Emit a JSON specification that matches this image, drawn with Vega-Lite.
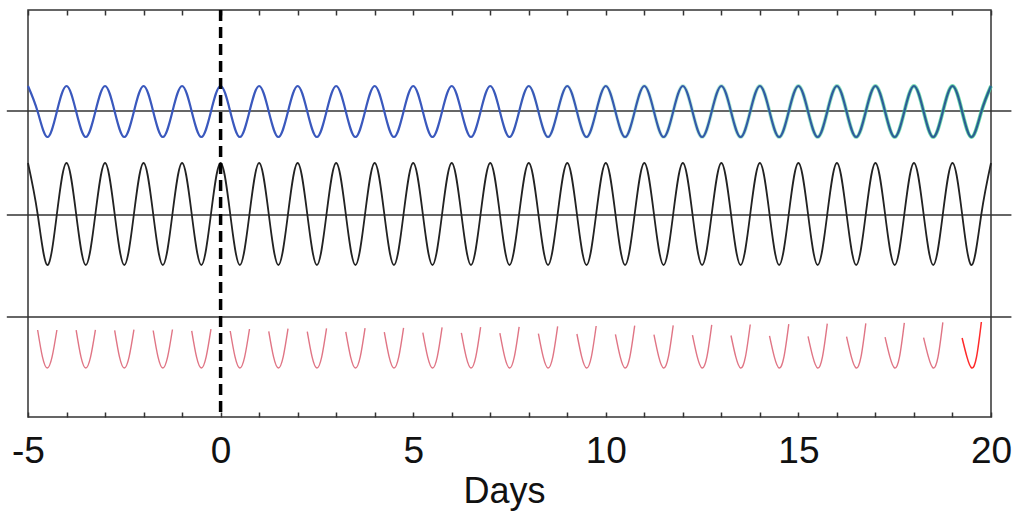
{
  "$schema": "https://vega.github.io/schema/vega-lite/v6.json",
  "width": 963,
  "height": 407,
  "autosize": {"type": "none"},
  "padding": {"left": 28, "top": 10, "right": 29, "bottom": 101},
  "background": "white",
  "config": {
    "view": {"stroke": "#333333", "strokeWidth": 1.5},
    "font": "Liberation Sans"
  },
  "datasets": {
    "levels": [{"lvl": 30.6}, {"lvl": 20.2}, {"lvl": 10.0}],
    "marker": [{"t": 0}],
    "waves": [
      {"t": -5, "a": 33.1, "b": 25.4}, {"t": -4.75, "a": 30.55, "b": 20.3}, {"t": -4.5, "a": 28.0, "b": 15.2}, {"t": -4.25, "a": 30.55, "b": 20.3},
      {"t": -4, "a": 33.1, "b": 25.4}, {"t": -3.75, "a": 30.55, "b": 20.3}, {"t": -3.5, "a": 28.0, "b": 15.2}, {"t": -3.25, "a": 30.55, "b": 20.3},
      {"t": -3, "a": 33.1, "b": 25.4}, {"t": -2.75, "a": 30.55, "b": 20.3}, {"t": -2.5, "a": 28.0, "b": 15.2}, {"t": -2.25, "a": 30.55, "b": 20.3},
      {"t": -2, "a": 33.1, "b": 25.4}, {"t": -1.75, "a": 30.55, "b": 20.3}, {"t": -1.5, "a": 28.0, "b": 15.2}, {"t": -1.25, "a": 30.55, "b": 20.3},
      {"t": -1, "a": 33.1, "b": 25.4}, {"t": -0.75, "a": 30.55, "b": 20.3}, {"t": -0.5, "a": 28.0, "b": 15.2}, {"t": -0.25, "a": 30.55, "b": 20.3},
      {"t": 0, "a": 33.1, "b": 25.4}, {"t": 0.25, "a": 30.55, "b": 20.3}, {"t": 0.5, "a": 28.0, "b": 15.2}, {"t": 0.75, "a": 30.55, "b": 20.3},
      {"t": 1, "a": 33.1, "b": 25.4}, {"t": 1.25, "a": 30.55, "b": 20.3}, {"t": 1.5, "a": 28.0, "b": 15.2}, {"t": 1.75, "a": 30.55, "b": 20.3},
      {"t": 2, "a": 33.1, "b": 25.4}, {"t": 2.25, "a": 30.55, "b": 20.3}, {"t": 2.5, "a": 28.0, "b": 15.2}, {"t": 2.75, "a": 30.55, "b": 20.3},
      {"t": 3, "a": 33.1, "b": 25.4}, {"t": 3.25, "a": 30.55, "b": 20.3}, {"t": 3.5, "a": 28.0, "b": 15.2}, {"t": 3.75, "a": 30.55, "b": 20.3},
      {"t": 4, "a": 33.1, "b": 25.4}, {"t": 4.25, "a": 30.55, "b": 20.3}, {"t": 4.5, "a": 28.0, "b": 15.2}, {"t": 4.75, "a": 30.55, "b": 20.3},
      {"t": 5, "a": 33.1, "b": 25.4}, {"t": 5.25, "a": 30.55, "b": 20.3}, {"t": 5.5, "a": 28.0, "b": 15.2}, {"t": 5.75, "a": 30.55, "b": 20.3},
      {"t": 6, "a": 33.1, "b": 25.4}, {"t": 6.25, "a": 30.55, "b": 20.3}, {"t": 6.5, "a": 28.0, "b": 15.2}, {"t": 6.75, "a": 30.55, "b": 20.3},
      {"t": 7, "a": 33.1, "b": 25.4}, {"t": 7.25, "a": 30.55, "b": 20.3}, {"t": 7.5, "a": 28.0, "b": 15.2}, {"t": 7.75, "a": 30.55, "b": 20.3},
      {"t": 8, "a": 33.1, "b": 25.4}, {"t": 8.25, "a": 30.55, "b": 20.3}, {"t": 8.5, "a": 28.0, "b": 15.2}, {"t": 8.75, "a": 30.55, "b": 20.3},
      {"t": 9, "a": 33.1, "b": 25.4}, {"t": 9.25, "a": 30.55, "b": 20.3}, {"t": 9.5, "a": 28.0, "b": 15.2}, {"t": 9.75, "a": 30.55, "b": 20.3},
      {"t": 10, "a": 33.1, "b": 25.4}, {"t": 10.25, "a": 30.55, "b": 20.3}, {"t": 10.5, "a": 28.0, "b": 15.2}, {"t": 10.75, "a": 30.55, "b": 20.3},
      {"t": 11, "a": 33.1, "b": 25.4}, {"t": 11.25, "a": 30.55, "b": 20.3}, {"t": 11.5, "a": 28.0, "b": 15.2}, {"t": 11.75, "a": 30.55, "b": 20.3},
      {"t": 12, "a": 33.1, "b": 25.4}, {"t": 12.25, "a": 30.55, "b": 20.3}, {"t": 12.5, "a": 28.0, "b": 15.2}, {"t": 12.75, "a": 30.55, "b": 20.3},
      {"t": 13, "a": 33.1, "b": 25.4}, {"t": 13.25, "a": 30.55, "b": 20.3}, {"t": 13.5, "a": 28.0, "b": 15.2}, {"t": 13.75, "a": 30.55, "b": 20.3},
      {"t": 14, "a": 33.1, "b": 25.4}, {"t": 14.25, "a": 30.55, "b": 20.3}, {"t": 14.5, "a": 28.0, "b": 15.2}, {"t": 14.75, "a": 30.55, "b": 20.3},
      {"t": 15, "a": 33.1, "b": 25.4}, {"t": 15.25, "a": 30.55, "b": 20.3}, {"t": 15.5, "a": 28.0, "b": 15.2}, {"t": 15.75, "a": 30.55, "b": 20.3},
      {"t": 16, "a": 33.1, "b": 25.4}, {"t": 16.25, "a": 30.55, "b": 20.3}, {"t": 16.5, "a": 28.0, "b": 15.2}, {"t": 16.75, "a": 30.55, "b": 20.3},
      {"t": 17, "a": 33.1, "b": 25.4}, {"t": 17.25, "a": 30.55, "b": 20.3}, {"t": 17.5, "a": 28.0, "b": 15.2}, {"t": 17.75, "a": 30.55, "b": 20.3},
      {"t": 18, "a": 33.1, "b": 25.4}, {"t": 18.25, "a": 30.55, "b": 20.3}, {"t": 18.5, "a": 28.0, "b": 15.2}, {"t": 18.75, "a": 30.55, "b": 20.3},
      {"t": 19, "a": 33.1, "b": 25.4}, {"t": 19.25, "a": 30.55, "b": 20.3}, {"t": 19.5, "a": 28.0, "b": 15.2}, {"t": 19.75, "a": 30.55, "b": 20.3},
      {"t": 20, "a": 33.1, "b": 25.4}
    ],
    "lows": [
      {"v": 0, "t": -4.75, "y": 8.7}, {"v": 0, "t": -4.625, "y": 6.01}, {"v": 0, "t": -4.5, "y": 4.9}, {"v": 0, "t": -4.375, "y": 6.01}, {"v": 0, "t": -4.25, "y": 8.7},
      {"v": 1, "t": -3.75, "y": 8.69}, {"v": 1, "t": -3.625, "y": 6.01}, {"v": 1, "t": -3.5, "y": 4.9}, {"v": 1, "t": -3.375, "y": 6.01}, {"v": 1, "t": -3.25, "y": 8.71},
      {"v": 2, "t": -2.75, "y": 8.67}, {"v": 2, "t": -2.625, "y": 6.01}, {"v": 2, "t": -2.5, "y": 4.9}, {"v": 2, "t": -2.375, "y": 6.01}, {"v": 2, "t": -2.25, "y": 8.73},
      {"v": 3, "t": -1.75, "y": 8.65}, {"v": 3, "t": -1.625, "y": 6.01}, {"v": 3, "t": -1.5, "y": 4.9}, {"v": 3, "t": -1.375, "y": 6.01}, {"v": 3, "t": -1.25, "y": 8.75},
      {"v": 4, "t": -0.75, "y": 8.62}, {"v": 4, "t": -0.625, "y": 6.01}, {"v": 4, "t": -0.5, "y": 4.9}, {"v": 4, "t": -0.375, "y": 6.01}, {"v": 4, "t": -0.25, "y": 8.78},
      {"v": 5, "t": 0.25, "y": 8.6}, {"v": 5, "t": 0.375, "y": 6.01}, {"v": 5, "t": 0.5, "y": 4.9}, {"v": 5, "t": 0.625, "y": 6.01}, {"v": 5, "t": 0.75, "y": 8.8},
      {"v": 6, "t": 1.25, "y": 8.57}, {"v": 6, "t": 1.375, "y": 6.01}, {"v": 6, "t": 1.5, "y": 4.9}, {"v": 6, "t": 1.625, "y": 6.01}, {"v": 6, "t": 1.75, "y": 8.83},
      {"v": 7, "t": 2.25, "y": 8.54}, {"v": 7, "t": 2.375, "y": 6.01}, {"v": 7, "t": 2.5, "y": 4.9}, {"v": 7, "t": 2.625, "y": 6.01}, {"v": 7, "t": 2.75, "y": 8.86},
      {"v": 8, "t": 3.25, "y": 8.51}, {"v": 8, "t": 3.375, "y": 6.01}, {"v": 8, "t": 3.5, "y": 4.9}, {"v": 8, "t": 3.625, "y": 6.01}, {"v": 8, "t": 3.75, "y": 8.89},
      {"v": 9, "t": 4.25, "y": 8.48}, {"v": 9, "t": 4.375, "y": 6.01}, {"v": 9, "t": 4.5, "y": 4.9}, {"v": 9, "t": 4.625, "y": 6.01}, {"v": 9, "t": 4.75, "y": 8.92},
      {"v": 10, "t": 5.25, "y": 8.44}, {"v": 10, "t": 5.375, "y": 6.01}, {"v": 10, "t": 5.5, "y": 4.9}, {"v": 10, "t": 5.625, "y": 6.01}, {"v": 10, "t": 5.75, "y": 8.96},
      {"v": 11, "t": 6.25, "y": 8.41}, {"v": 11, "t": 6.375, "y": 6.01}, {"v": 11, "t": 6.5, "y": 4.9}, {"v": 11, "t": 6.625, "y": 6.01}, {"v": 11, "t": 6.75, "y": 8.99},
      {"v": 12, "t": 7.25, "y": 8.38}, {"v": 12, "t": 7.375, "y": 6.01}, {"v": 12, "t": 7.5, "y": 4.9}, {"v": 12, "t": 7.625, "y": 6.01}, {"v": 12, "t": 7.75, "y": 9.02},
      {"v": 13, "t": 8.25, "y": 8.34}, {"v": 13, "t": 8.375, "y": 6.01}, {"v": 13, "t": 8.5, "y": 4.9}, {"v": 13, "t": 8.625, "y": 6.01}, {"v": 13, "t": 8.75, "y": 9.06},
      {"v": 14, "t": 9.25, "y": 8.3}, {"v": 14, "t": 9.375, "y": 6.01}, {"v": 14, "t": 9.5, "y": 4.9}, {"v": 14, "t": 9.625, "y": 6.01}, {"v": 14, "t": 9.75, "y": 9.1},
      {"v": 15, "t": 10.25, "y": 8.27}, {"v": 15, "t": 10.375, "y": 6.01}, {"v": 15, "t": 10.5, "y": 4.9}, {"v": 15, "t": 10.625, "y": 6.01}, {"v": 15, "t": 10.75, "y": 9.13},
      {"v": 16, "t": 11.25, "y": 8.23}, {"v": 16, "t": 11.375, "y": 6.01}, {"v": 16, "t": 11.5, "y": 4.9}, {"v": 16, "t": 11.625, "y": 6.01}, {"v": 16, "t": 11.75, "y": 9.17},
      {"v": 17, "t": 12.25, "y": 8.19}, {"v": 17, "t": 12.375, "y": 6.01}, {"v": 17, "t": 12.5, "y": 4.9}, {"v": 17, "t": 12.625, "y": 6.01}, {"v": 17, "t": 12.75, "y": 9.21},
      {"v": 18, "t": 13.25, "y": 8.15}, {"v": 18, "t": 13.375, "y": 6.01}, {"v": 18, "t": 13.5, "y": 4.9}, {"v": 18, "t": 13.625, "y": 6.01}, {"v": 18, "t": 13.75, "y": 9.25},
      {"v": 19, "t": 14.25, "y": 8.11}, {"v": 19, "t": 14.375, "y": 6.01}, {"v": 19, "t": 14.5, "y": 4.9}, {"v": 19, "t": 14.625, "y": 6.01}, {"v": 19, "t": 14.75, "y": 9.29},
      {"v": 20, "t": 15.25, "y": 8.07}, {"v": 20, "t": 15.375, "y": 6.01}, {"v": 20, "t": 15.5, "y": 4.9}, {"v": 20, "t": 15.625, "y": 6.01}, {"v": 20, "t": 15.75, "y": 9.33},
      {"v": 21, "t": 16.25, "y": 8.03}, {"v": 21, "t": 16.375, "y": 6.01}, {"v": 21, "t": 16.5, "y": 4.9}, {"v": 21, "t": 16.625, "y": 6.01}, {"v": 21, "t": 16.75, "y": 9.37},
      {"v": 22, "t": 17.25, "y": 7.99}, {"v": 22, "t": 17.375, "y": 6.01}, {"v": 22, "t": 17.5, "y": 4.9}, {"v": 22, "t": 17.625, "y": 6.01}, {"v": 22, "t": 17.75, "y": 9.41},
      {"v": 23, "t": 18.25, "y": 7.94}, {"v": 23, "t": 18.375, "y": 6.01}, {"v": 23, "t": 18.5, "y": 4.9}, {"v": 23, "t": 18.625, "y": 6.01}, {"v": 23, "t": 18.75, "y": 9.46},
      {"v": 24, "t": 19.25, "y": 7.9}, {"v": 24, "t": 19.375, "y": 6.01}, {"v": 24, "t": 19.5, "y": 4.9}, {"v": 24, "t": 19.625, "y": 6.01}, {"v": 24, "t": 19.75, "y": 9.5}
    ]
  },
  "resolve": {"axis": {"x": "independent"}},
  "layer": [
    {
      "data": {"name": "levels"},
      "mark": {"type": "rule", "color": "#333333", "strokeWidth": 1.5},
      "encoding": {
        "x": {"datum": -5.55, "type": "quantitative", "scale": {"domain": [-5, 20], "nice": false, "zero": false},
          "axis": {"orient": "bottom", "values": [-5,-4,-3,-2,-1,0,1,2,3,4,5,6,7,8,9,10,11,12,13,14,15,16,17,18,19,20],
            "labelExpr": "datum.value % 5 === 0 ? ('' + datum.value) : ''", "tickSize": -5, "tickColor": "#333333", "tickWidth": 1.5,
            "domain": false, "grid": false, "labelFontSize": 37, "labelColor": "#111111", "labelPadding": 21, "labelFlush": false,
            "title": "Days", "titleFontSize": 36, "titleFontWeight": "normal", "titleColor": "#111111", "titlePadding": 5, "titleX": 476, "titleAlign": "center"}},
        "x2": {"datum": 20.53},
        "y": {"field": "lvl", "type": "quantitative", "scale": {"domain": [0, 40.7], "nice": false, "zero": false}, "axis": null}
      }
    },
    {
      "data": {"name": "waves"},
      "mark": {"type": "line", "interpolate": "natural", "strokeWidth": 3.8,
        "color": {"gradient": "linear", "x1": 0, "x2": 1, "y1": 0, "y2": 0,
          "stops": [{"offset": 0, "color": "rgba(70,210,150,0)"}, {"offset": 0.5, "color": "rgba(70,210,150,0)"}, {"offset": 1, "color": "rgba(70,210,150,0.85)"}]}},
      "encoding": {
        "x": {"field": "t", "type": "quantitative",
          "axis": {"orient": "top", "values": [-5,-4,-3,-2,-1,0,1,2,3,4,5,6,7,8,9,10,11,12,13,14,15,16,17,18,19,20],
            "labels": false, "tickSize": -5, "tickColor": "#333333", "tickWidth": 1.5, "domain": false, "grid": false, "title": null}},
        "y": {"field": "a", "type": "quantitative"}
      }
    },
    {
      "data": {"name": "waves"},
      "mark": {"type": "line", "interpolate": "natural", "strokeWidth": 2.2,
        "color": {"gradient": "linear", "x1": 0, "x2": 1, "y1": 0, "y2": 0,
          "stops": [{"offset": 0, "color": "#3a58bd"}, {"offset": 0.45, "color": "#3a58bd"}, {"offset": 1, "color": "#2a5f90"}]}},
      "encoding": {
        "x": {"field": "t", "type": "quantitative", "axis": null},
        "y": {"field": "a", "type": "quantitative"}
      }
    },
    {
      "data": {"name": "waves"},
      "mark": {"type": "line", "interpolate": "natural", "strokeWidth": 1.8, "color": "#222222"},
      "encoding": {
        "x": {"field": "t", "type": "quantitative", "axis": null},
        "y": {"field": "b", "type": "quantitative"}
      }
    },
    {
      "data": {"name": "lows"},
      "transform": [{"filter": "datum.v < 24"}],
      "mark": {"type": "line", "interpolate": "natural", "strokeWidth": 1.4, "color": "#e07585"},
      "encoding": {
        "x": {"field": "t", "type": "quantitative", "axis": null},
        "y": {"field": "y", "type": "quantitative"},
        "detail": {"field": "v", "type": "nominal"}
      }
    },
    {
      "data": {"name": "lows"},
      "transform": [{"filter": "datum.v === 24"}],
      "mark": {"type": "line", "interpolate": "natural", "strokeWidth": 1.5, "color": "#ff2a2a"},
      "encoding": {
        "x": {"field": "t", "type": "quantitative", "axis": null},
        "y": {"field": "y", "type": "quantitative"}
      }
    },
    {
      "data": {"name": "marker"},
      "mark": {"type": "rule", "color": "#000000", "strokeWidth": 3.5, "strokeDash": [11, 6]},
      "encoding": {
        "x": {"field": "t", "type": "quantitative", "axis": null}
      }
    }
  ]
}
